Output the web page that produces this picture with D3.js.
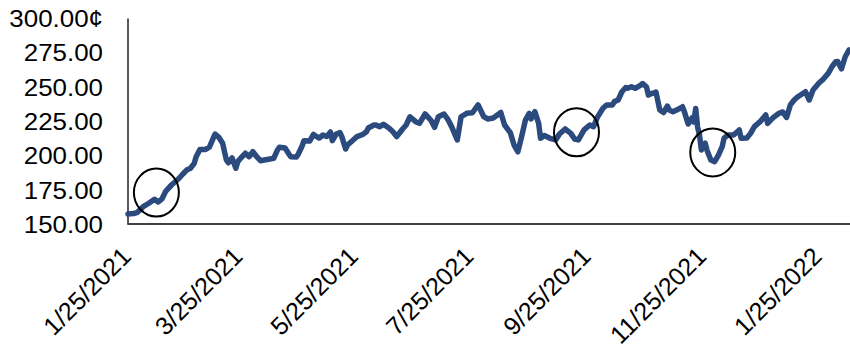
<!DOCTYPE html>
<html>
<head>
<meta charset="utf-8">
<script src="https://cdn.jsdelivr.net/npm/d3@7"></script>
<style>
  html, body { margin: 0; padding: 0; background: #fff; }
  svg { display: block; }
  text { font-family: "Liberation Sans", Arial, sans-serif; fill: #000; }
</style>
</head>
<body>
<svg id="chart" width="850" height="348"></svg>
<script>
// ---- data ----
const dates = [
"2021-01-25","2021-01-28","2021-01-30","2021-02-02","2021-02-05","2021-02-08","2021-02-10","2021-02-12","2021-02-14","2021-02-17",
"2021-02-21","2021-02-23","2021-02-25","2021-02-27","2021-03-01","2021-03-02","2021-03-04","2021-03-07","2021-03-09","2021-03-11",
"2021-03-12","2021-03-14","2021-03-16","2021-03-17","2021-03-18","2021-03-19","2021-03-21","2021-03-23","2021-03-24","2021-03-26",
"2021-03-28","2021-03-30","2021-04-01","2021-04-03","2021-04-05","2021-04-07","2021-04-10","2021-04-12","2021-04-14","2021-04-15",
"2021-04-18","2021-04-20","2021-04-21","2021-04-24","2021-04-25","2021-04-27","2021-04-28","2021-05-01","2021-05-03","2021-05-05",
"2021-05-06","2021-05-08","2021-05-10","2021-05-12","2021-05-13","2021-05-15","2021-05-17","2021-05-18","2021-05-20","2021-05-21",
"2021-05-24","2021-05-26","2021-05-29","2021-05-31","2021-06-01","2021-06-04","2021-06-05","2021-06-07","2021-06-09","2021-06-12",
"2021-06-14","2021-06-16","2021-06-19","2021-06-21","2021-06-23","2021-06-26","2021-06-28","2021-07-01","2021-07-04","2021-07-06",
"2021-07-08","2021-07-11","2021-07-13","2021-07-15","2021-07-18","2021-07-20","2021-07-23","2021-07-26","2021-07-29","2021-08-01",
"2021-08-03","2021-08-06","2021-08-10","2021-08-12","2021-08-15","2021-08-17","2021-08-19","2021-08-21","2021-08-23","2021-08-25",
"2021-08-26","2021-08-28","2021-08-30","2021-08-31","2021-09-02","2021-09-05","2021-09-08","2021-09-10","2021-09-13","2021-09-16",
"2021-09-18","2021-09-20","2021-09-23","2021-09-26","2021-09-28","2021-09-30","2021-10-03","2021-10-05","2021-10-08","2021-10-09",
"2021-10-11","2021-10-13","2021-10-15","2021-10-16","2021-10-18","2021-10-20","2021-10-23","2021-10-24","2021-10-26","2021-10-27",
"2021-10-29","2021-10-30","2021-10-31","2021-11-02","2021-11-04","2021-11-06","2021-11-07","2021-11-09","2021-11-12","2021-11-14",
"2021-11-15","2021-11-17","2021-11-19","2021-11-20","2021-11-21","2021-11-22","2021-11-23","2021-11-24","2021-11-26","2021-11-27",
"2021-11-29","2021-12-01","2021-12-03","2021-12-05","2021-12-06","2021-12-08","2021-12-11","2021-12-14","2021-12-15","2021-12-18",
"2021-12-20","2021-12-22","2021-12-25","2021-12-28","2021-12-29","2022-01-01","2022-01-04","2022-01-06","2022-01-08","2022-01-10",
"2022-01-12","2022-01-14","2022-01-17","2022-01-18","2022-01-20","2022-01-22","2022-01-25","2022-01-27","2022-01-30","2022-02-01",
"2022-02-03","2022-02-04","2022-02-06","2022-02-08","2022-02-10"
];
const prices = [
157.3,157.6,158.5,162.6,165.1,168.0,166.0,168.4,174.0,178.4,
183.3,186.4,189.3,190.6,194.2,199.0,204.3,204.3,205.9,212.4,
215.5,213.1,208.8,202.6,196.6,194.6,198.1,190.6,195.4,198.6,
201.5,199.0,202.6,199.0,196.1,196.6,197.3,197.8,203.9,205.9,
205.3,201.0,199.0,198.8,201.0,206.8,210.7,210.4,215.2,213.4,
212.6,214.8,213.7,217.0,210.7,215.5,216.5,213.6,204.6,207.5,
211.2,213.6,215.2,217.2,219.9,222.1,222.1,220.9,222.6,219.7,
217.2,213.6,219.0,222.1,228.1,224.5,223.3,230.1,225.7,220.4,
228.1,230.1,226.2,220.9,211.2,228.1,230.6,231.0,236.7,228.1,
226.5,227.2,231.2,222.1,216.6,207.5,202.6,213.6,225.7,230.6,
226.5,231.8,223.3,212.4,214.4,212.4,211.2,215.5,219.2,216.0,
211.9,211.2,218.5,222.1,220.9,227.6,234.3,236.7,236.7,239.1,
240.3,246.3,249.4,248.8,250.0,248.8,251.2,252.3,249.8,243.9,
245.2,245.4,246.1,233.0,231.2,235.9,233.0,231.8,233.7,235.4,
231.8,222.8,227.2,224.3,234.1,220.6,214.8,203.9,208.8,203.5,
196.6,195.4,200.2,206.3,212.6,214.8,214.8,218.5,212.4,212.6,
216.0,220.9,224.5,229.4,223.3,227.6,230.6,231.6,227.6,236.7,
240.3,242.7,245.4,246.3,240.3,247.6,252.5,254.9,259.7,264.5,
268.2,268.3,263.0,271.8,276.7
];
const yTicks = [150, 175, 200, 225, 250, 275, 300];
const xTickDates = ["2021-01-25","2021-03-25","2021-05-25","2021-07-25","2021-09-25","2021-11-25","2022-01-25"];
const xDomain = ["2021-01-25", "2022-02-10"];
const yDomain = [150, 300];
// highlighted points (circled in the chart)
const circleDates = ["2021-02-09", "2021-09-19", "2021-11-30"];
const circleValues = [172.9, 216.8, 202.1];

// ---- layout / style ----
const parse = d3.timeParse("%Y-%m-%d");
const fmt = d => `${d.getMonth() + 1}/${d.getDate()}/${d.getFullYear()}`;
const svg = d3.select("#chart");
const mLeft = 127.5, mRight = 849, mTop = 18, mBottom = 224;
const sx = 1.08;

const x = d3.scaleTime().domain(xDomain.map(parse)).range([128, mRight]);
const y = d3.scaleLinear().domain(yDomain).range([mBottom, mTop]);

const data = dates.map((d, i) => ({ date: parse(d), value: prices[i] }));

// y axis
const yAxis = d3.axisLeft(y).tickValues(yTicks).tickSize(0).tickSizeOuter(0)
  .tickFormat(v => v === 300 ? d3.format(".2f")(v) + "¢" : d3.format(".2f")(v));
const gy = svg.append("g").attr("transform", `translate(${mLeft},0)`).call(yAxis);
gy.select(".domain").attr("stroke", "#000").attr("stroke-width", 1.3);
gy.selectAll("text")
  .attr("x", null).attr("dy", "0.36em")
  .attr("text-anchor", "end")
  .attr("transform", `translate(-24.5,0) scale(${sx},1)`)
  .style("font-size", "24px").style("font-family", '"Liberation Sans", Arial, sans-serif')
  .attr("fill", "#000");

// x axis
const xAxis = d3.axisBottom(x).tickValues(xTickDates.map(parse)).tickSize(0).tickSizeOuter(0).tickFormat(fmt);
const gx = svg.append("g").attr("transform", `translate(0,${mBottom})`).call(xAxis);
gx.select(".domain").attr("stroke", "#404040").attr("stroke-width", 2)
  .attr("d", `M${mLeft},0H${850}`);
gx.selectAll("text")
  .attr("y", null).attr("dy", null)
  .attr("text-anchor", "end")
  .attr("transform", `translate(4,34) rotate(-45)`)
  .style("font-size", "25px").style("font-family", '"Liberation Sans", Arial, sans-serif')
  .attr("fill", "#000");

// line
const line = d3.line().x(d => x(d.date)).y(d => y(d.value));
svg.append("path").datum(data)
  .attr("d", line)
  .attr("fill", "none")
  .attr("stroke", "#2B4A7E")
  .attr("stroke-width", 5.5)
  .attr("stroke-linejoin", "round")
  .attr("stroke-linecap", "round");

// circles
svg.selectAll("ellipse.mark").data(circleDates.map((d, i) => ({ date: parse(d), value: circleValues[i] })))
  .join("ellipse").attr("class", "mark")
  .attr("cx", d => x(d.date)).attr("cy", d => y(d.value))
  .attr("rx", 22.5).attr("ry", 24)
  .attr("fill", "none").attr("stroke", "#000").attr("stroke-width", 2);
</script>
</body>
</html>
